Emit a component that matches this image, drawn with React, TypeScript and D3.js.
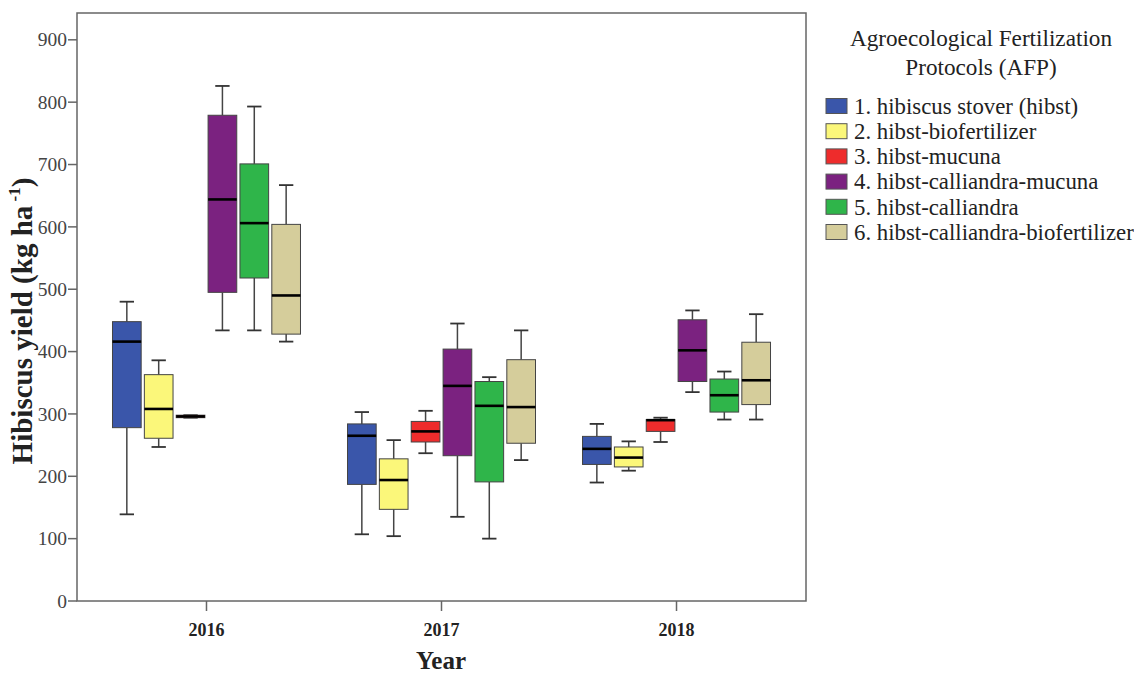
import * as d3 from "d3";

// years on the x axis
const years = ["2016", "2017", "2018"];

// protocol names and fills (legend order)
const protocols = [
  "1. hibiscus stover (hibst)",
  "2. hibst-biofertilizer",
  "3. hibst-mucuna",
  "4. hibst-calliandra-mucuna",
  "5. hibst-calliandra",
  "6. hibst-calliandra-biofertilizer",
];
const fills = ["#3a56aa", "#fbf77a", "#ee2c2c", "#7b2280", "#2fb54a", "#d5cd9b"];

// [min, q1, median, q3, max] per year
const hibst = [
  [139, 278, 416, 448, 480],
  [107, 187, 265, 284, 303],
  [190, 219, 244, 264, 284],
];
const hibstBio = [
  [247, 261, 308, 363, 386],
  [104, 147, 194, 228, 258],
  [209, 215, 230, 247, 256],
];
const hibstMucuna = [
  [294, 294, 296, 298, 298],
  [237, 255, 272, 288, 305],
  [255, 272, 290, 291, 294],
];
const hibstCallMucuna = [
  [434, 495, 644, 779, 826],
  [135, 233, 345, 404, 445],
  [335, 352, 402, 451, 466],
];
const hibstCall = [
  [434, 518, 606, 701, 793],
  [100, 191, 313, 352, 359],
  [291, 303, 330, 356, 368],
];
const hibstCallBio = [
  [416, 428, 490, 604, 667],
  [226, 253, 311, 387, 434],
  [291, 315, 354, 415, 460],
];
const seriesStats = [hibst, hibstBio, hibstMucuna, hibstCallMucuna, hibstCall, hibstCallBio];

const yTicks = [0, 100, 200, 300, 400, 500, 600, 700, 800, 900];

const W = 1134;
const H = 676;
const left = 77;
const right = 806;
const top = 13;
const bottom = 601;
const serif = "'Liberation Serif', 'Times New Roman', serif";

export default function App() {
  const y = d3.scaleLinear().domain([0, 943]).range([bottom, top]);
  const x0 = d3.scalePoint().domain(years).range([left, right]).padding(0.551);
  const x1 = d3
    .scaleBand()
    .domain(protocols)
    .range([-94, 94])
    .paddingInner(0.1);
  const bw = x1.bandwidth();

  return (
    <svg
      width={W}
      height={H}
      style={{ position: "absolute", left: 0, top: 0, background: "#fff" }}
      fontFamily={serif}
    >
      {/* boxes */}
      {years.map((yr, yi) => (
        <g key={yr} transform={`translate(${x0(yr)},0)`}>
          {protocols.map((p, si) => {
            const [mn, q1, md, q3, mx] = seriesStats[si][yi];
            const bx = x1(p)!;
            const cx = bx + bw / 2;
            return (
              <g key={p}>
                <line x1={cx} x2={cx} y1={y(mx)} y2={y(q3)} stroke="#444" strokeWidth={1.5} />
                <line x1={cx} x2={cx} y1={y(q1)} y2={y(mn)} stroke="#444" strokeWidth={1.5} />
                <line x1={cx - bw / 4} x2={cx + bw / 4} y1={y(mx)} y2={y(mx)} stroke="#333" strokeWidth={1.8} />
                <line x1={cx - bw / 4} x2={cx + bw / 4} y1={y(mn)} y2={y(mn)} stroke="#333" strokeWidth={1.8} />
                <rect
                  x={bx}
                  y={y(q3)}
                  width={bw}
                  height={Math.max(1, y(q1) - y(q3))}
                  fill={fills[si]}
                  stroke="#444"
                  strokeWidth={1}
                />
                <line x1={bx} x2={bx + bw} y1={y(md)} y2={y(md)} stroke="#000" strokeWidth={2.6} />
              </g>
            );
          })}
        </g>
      ))}

      {/* frame */}
      <rect x={left} y={top} width={right - left} height={bottom - top} fill="none" stroke="#666" strokeWidth={1.5} />

      {/* y axis */}
      {yTicks.map((t) => (
        <g key={t} transform={`translate(0,${y(t)})`}>
          <line x1={left - 9} x2={left} stroke="#666" strokeWidth={1.5} />
          <text x={left - 10} dy="0.34em" textAnchor="end" fontSize={19.5} fill="#444">
            {t}
          </text>
        </g>
      ))}

      {/* x axis */}
      {years.map((yr) => (
        <g key={yr} transform={`translate(${x0(yr)},${bottom})`}>
          <line y1={0} y2={10} stroke="#666" strokeWidth={1.5} />
          <text y={35} textAnchor="middle" fontSize={18} fontWeight="bold" fill="#222">
            {yr}
          </text>
        </g>
      ))}

      {/* axis titles */}
      <text x={441} y={669} textAnchor="middle" fontSize={25} fontWeight="bold" fill="#222">
        Year
      </text>
      <text
        transform={`translate(32,321) rotate(-90)`}
        textAnchor="middle"
        fontSize={29}
        fontWeight="bold"
        fill="#222"
      >
        Hibiscus yield (kg ha
        <tspan fontSize={17} dy={-12}> -1</tspan>
        <tspan dy={12}>)</tspan>
      </text>

      {/* legend */}
      <text x={981} y={46} textAnchor="middle" fontSize={23.2} fill="#222">
        Agroecological Fertilization
      </text>
      <text x={981} y={75} textAnchor="middle" fontSize={23.2} fill="#222">
        Protocols (AFP)
      </text>
      {protocols.map((p, i) => (
        <g key={p} transform={`translate(826,${106 + i * 25.2})`}>
          <rect x={0} y={-7.5} width={21} height={15} fill={fills[i]} stroke="#555" strokeWidth={1} />
          <text x={28} dy="0.34em" fontSize={22.8} fill="#222">
            {p}
          </text>
        </g>
      ))}
    </svg>
  );
}
